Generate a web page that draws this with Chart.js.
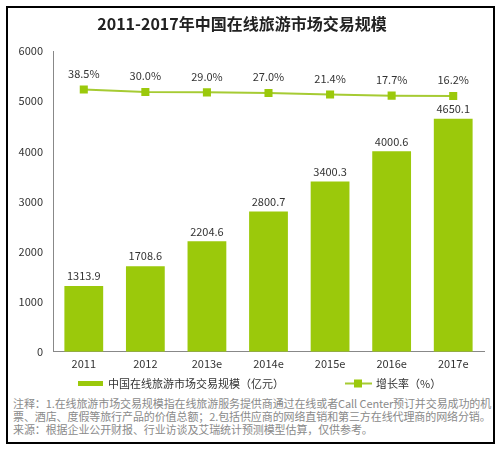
<!DOCTYPE html>
<html>
<head>
<meta charset="utf-8">
<script src="https://cdn.jsdelivr.net/npm/chart.js@4"></script>
<style>
  html, body { margin: 0; padding: 0; background: #fff; }
  body { width: 501px; height: 450px; position: relative; overflow: hidden; }
  #wrap { position: absolute; left: 0; top: 0; width: 501px; height: 395px; }
  #frame { position: absolute; left: 6px; top: 6px; width: 489px; height: 438px;
           border: 2px solid #000; box-sizing: border-box; }
  #note { position: absolute; left: 13px; top: 397px; width: 478px;
          font-family: "Noto Sans CJK SC", sans-serif; font-size: 11px; line-height: 13px;
          color: #8a8a8a; white-space: nowrap; letter-spacing: -0.1px; }
</style>
</head>
<body>
<div id="frame"></div>
<div id="wrap"><canvas id="chart"></canvas></div>
<div id="note">注释：1.在线旅游市场交易规模指在线旅游服务提供商通过在线或者Call Center预订并交易成功的机<br>票、酒店、度假等旅行产品的价值总额；2.包括供应商的网络直销和第三方在线代理商的网络分销。<br>来源：根据企业公开财报、行业访谈及艾瑞统计预测模型估算，仅供参考。</div>
<script>
const years = ['2011', '2012', '2013e', '2014e', '2015e', '2016e', '2017e'];
const scale = [1313.9, 1708.6, 2204.6, 2800.7, 3400.3, 4000.6, 4650.1];
const growth = [38.5, 30.0, 29.0, 27.0, 21.4, 17.7, 16.2];
const yTicks = [0, 1000, 2000, 3000, 4000, 5000, 6000];

const green = '#9BC90B';
const lineGreen = '#A6CB33';
const font = '"Noto Sans CJK SC", sans-serif';

// value labels above bars and points
const valueLabels = {
    id: 'valueLabels',
    afterDatasetsDraw(chart) {
        const ctx = chart.ctx;
        ctx.save();
        ctx.font = '11px ' + font;
        ctx.fillStyle = '#333';
        ctx.textAlign = 'center';
        ctx.textBaseline = 'middle';
        chart.getDatasetMeta(1).data.forEach((el, i) => {
            ctx.fillText(scale[i].toFixed(1), el.x, el.y - 10);
        });
        chart.getDatasetMeta(0).data.forEach((el, i) => {
            ctx.fillText(growth[i].toFixed(1) + '%', el.x, el.y - 16);
        });
        ctx.restore();
    }
};

// legend under the axis
const bottomLegend = {
    id: 'bottomLegend',
    afterDraw(chart) {
        const ctx = chart.ctx;
        const y = 383.5;
        ctx.save();
        ctx.fillStyle = green;
        ctx.fillRect(78, y - 2.5, 25, 5);
        ctx.strokeStyle = lineGreen;
        ctx.lineWidth = 2;
        ctx.beginPath();
        ctx.moveTo(345, y);
        ctx.lineTo(372, y);
        ctx.stroke();
        ctx.fillStyle = green;
        ctx.fillRect(354, y - 4, 8, 8);
        ctx.font = '11px ' + font;
        ctx.fillStyle = '#333';
        ctx.textBaseline = 'middle';
        ctx.fillText(chart.data.datasets[1].label, 108, y);
        ctx.fillText(chart.data.datasets[0].label, 376, y);
        ctx.restore();
    }
};

new Chart(document.getElementById('chart'), {
    data: {
        labels: years,
        datasets: [
            {
                type: 'line',
                label: '增长率（%）',
                data: growth,
                yAxisID: 'y2',
                borderColor: lineGreen,
                borderWidth: 2,
                pointStyle: 'rect',
                pointRadius: 5.7,
                pointBackgroundColor: green,
                pointBorderColor: green,
                pointBorderWidth: 0,
                tension: 0
            },
            {
                type: 'bar',
                label: '中国在线旅游市场交易规模（亿元）',
                data: scale,
                yAxisID: 'y',
                backgroundColor: green,
                categoryPercentage: 1,
                barPercentage: 0.63
            }
        ]
    },
    options: {
        responsive: true,
        maintainAspectRatio: false,
        animation: false,
        layout: { padding: { left: 0, right: 17, top: 0, bottom: 20 } },
        plugins: {
            legend: { display: false },
            tooltip: { enabled: false },
            title: {
                display: true,
                text: '2011-2017年中国在线旅游市场交易规模',
                color: '#222',
                font: { family: font, size: 16, weight: 'bold' },
                padding: { top: 14, bottom: 18 }
            }
        },
        scales: {
            x: {
                grid: { display: false, drawTicks: false },
                border: { display: true, color: '#888', width: 1 },
                ticks: { color: '#333', font: { family: font, size: 11 }, padding: 5 }
            },
            y: {
                min: 0,
                max: 6000,
                afterBuildTicks: s => { s.ticks = yTicks.map(v => ({ value: v })); },
                afterFit: s => { s.width = 53; },
                grid: { display: false, drawTicks: false },
                border: { display: true, color: '#888', width: 1 },
                ticks: { color: '#333', font: { family: font, size: 11 }, padding: 10,
                         callback: v => String(v) }
            },
            y2: {
                display: false,
                min: -860,
                max: 170
            }
        }
    },
    plugins: [valueLabels, bottomLegend]
});
</script>
</body>
</html>
